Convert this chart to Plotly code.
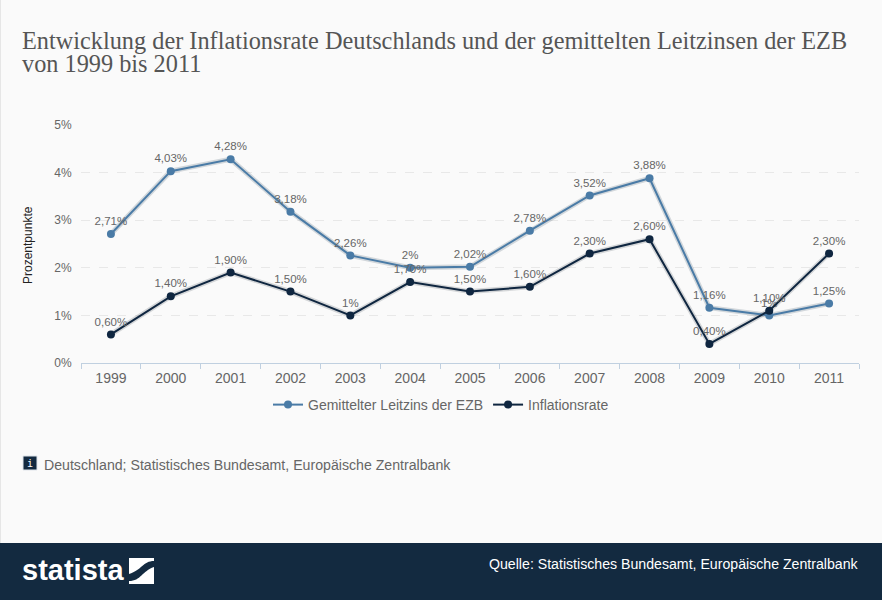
import plotly.graph_objects as go

years = ["1999","2000","2001","2002","2003","2004","2005","2006","2007","2008","2009","2010","2011"]
leitzins = [2.71,4.03,4.28,3.18,2.26,2.0,2.02,2.78,3.52,3.88,1.16,1.0,1.25]
leitzins_labels = ["2,71%","4,03%","4,28%","3,18%","2,26%","2%","2,02%","2,78%","3,52%","3,88%","1,16%","1%","1,25%"]
inflation = [0.6,1.4,1.9,1.5,1.0,1.7,1.5,1.6,2.3,2.6,0.4,1.1,2.3]
inflation_labels = ["0,60%","1,40%","1,90%","1,50%","1%","1,70%","1,50%","1,60%","2,30%","2,60%","0,40%","1,10%","2,30%"]
y_ticks = [0,1,2,3,4,5]
y_labels = ["0%","1%","2%","3%","4%","5%"]
title_lines = ["Entwicklung der Inflationsrate Deutschlands und der gemittelten Leitzinsen der EZB", "von 1999 bis 2011"]
note = "Deutschland; Statistisches Bundesamt, Europäische Zentralbank"
source = "Quelle: Statistisches Bundesamt, Europäische Zentralbank"

BG = "#fafafa"; NAVY = "#132a40"; BLUE = "#4a7ba6"; DARK = "#0f2640"; GREY = "#666666"
W, H = 882, 600
L, R, T, B = 81, 859, 125, 363
px = lambda v: (v - L) / (R - L)
py = lambda v: (B - v) / (B - T)

fig = go.Figure()
for vals, color in ((leitzins, "rgba(70,90,110,0.22)"), (inflation, "rgba(40,50,60,0.18)")):
    fig.add_trace(go.Scatter(x=years, y=vals, mode="lines", line=dict(color=color, width=5),
                             hoverinfo="skip", showlegend=False))
for name, vals, labels, color in (("Gemittelter Leitzins der EZB", leitzins, leitzins_labels, BLUE),
                                  ("Inflationsrate", inflation, inflation_labels, DARK)):
    fig.add_trace(go.Scatter(x=years, y=vals, name=name, mode="lines+markers+text", text=labels,
                             textposition="top center", cliponaxis=False,
                             textfont=dict(family="Liberation Sans", size=11.5, color="#666666"),
                             line=dict(color=color, width=2), marker=dict(color=color, size=8)))

shapes = [
    dict(type="rect", xref="paper", yref="paper", x0=px(0), x1=px(W), y0=py(H), y1=py(543), fillcolor=NAVY, line_width=0, layer="below"),
    dict(type="rect", xref="paper", yref="paper", x0=px(0), x1=px(1), y0=py(543), y1=py(0), fillcolor="#e6e6e6", line_width=0, layer="below"),
    dict(type="rect", xref="paper", yref="paper", x0=px(23), x1=px(37), y0=py(470), y1=py(456), fillcolor=NAVY,
         line=dict(color="#dfe4ea", width=1)),
    # logo mark
    dict(type="path", xref="paper", yref="paper", fillcolor="white", line_width=0,
         path=f"M {px(129)} {py(558)} L {px(154)} {py(558)} L {px(154)} {py(561)} C {px(143)} {py(561)} {px(142)} {py(570)} {px(129)} {py(574)} Z"),
    dict(type="path", xref="paper", yref="paper", fillcolor="white", line_width=0,
         path=f"M {px(154)} {py(584)} L {px(129)} {py(584)} L {px(129)} {py(581)} C {px(141)} {py(581)} {px(142)} {py(571)} {px(154)} {py(567)} Z"),
]
def label(text, x, y, family, size, color, xanchor="center", **kw):
    return dict(text=text, x=px(x), y=py(y), xref="paper", yref="paper", xanchor=xanchor, yanchor="middle",
                showarrow=False, font=dict(family=family, size=size, color=color, **kw.pop("fontkw", {})), **kw)
annotations = [
    label(title_lines[0], 20, 41, "Liberation Serif", 24.3, "#555555", "left"),
    label(title_lines[1], 20, 63, "Liberation Serif", 24.3, "#555555", "left"),
    label("Prozentpunkte", 28, 245, "Liberation Sans", 12, "#222222", textangle=-90),
    label("i", 30, 463, "DejaVu Sans Mono", 10, "white"),
    label(note, 42, 465, "Liberation Sans", 14.15, GREY, "left"),
    label("statista", 20, 570, "Liberation Sans", 29, "white", "left", fontkw=dict(weight=700)),
    label(source, 861, 564, "Liberation Sans", 14.15, "white", "right"),
]
fig.update_layout(
    width=W, height=H, margin=dict(l=L, r=W-R, t=T, b=H-B, pad=0, autoexpand=False),
    paper_bgcolor=BG, plot_bgcolor=BG, shapes=shapes, annotations=annotations, showlegend=True,
    legend=dict(orientation="h", x=0.5, xref="container", xanchor="center", y=1-405/H, yref="container", yanchor="middle",
                font=dict(family="Liberation Sans", size=14, color=GREY), bgcolor="rgba(0,0,0,0)",
                itemwidth=30),
)
fig.update_xaxes(type="category", range=[-0.5,12.5], tickson="boundaries", ticks="outside", ticklen=5, tickcolor="#c0d0e0",
                 showline=True, linecolor="#c0d0e0", showgrid=False, zeroline=False, automargin=False, ticklabelstandoff=2,
                 tickfont=dict(family="Liberation Sans", size=14, color=GREY))
fig.update_yaxes(range=[0,5], tickvals=y_ticks, ticktext=y_labels, showgrid=True, gridcolor="#e8e8e8", griddash="dash",
                 gridwidth=1, zeroline=False, showline=False, ticks="outside", ticklen=6, tickcolor="rgba(0,0,0,0)", automargin=False,
                 tickfont=dict(family="Liberation Sans", size=12, color=GREY))
fig.write_html("out.html", config=dict(displayModeBar=False), post_script="document.body.style.margin='0';")
